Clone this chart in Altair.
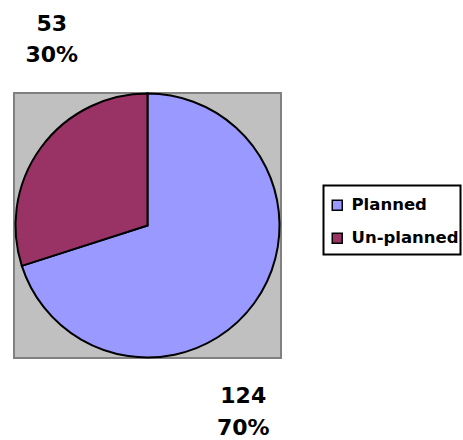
import altair as alt
import pandas as pd

# Slice data
categories = ["Planned", "Un-planned"]
counts = [124, 53]
slice_order = [0, 1]
slice_colors = ["#9999FF", "#993366"]

df = pd.DataFrame({"category": categories, "count": counts, "order": slice_order})

FONT = "DejaVu Sans"
one_row = pd.DataFrame({"k": [0]})

# Grey plot-area backdrop
backdrop = alt.Chart(one_row).mark_rect(
    fill="#C0C0C0", stroke="#808080", strokeWidth=2
).encode(
    x=alt.value(0), x2=alt.value(267),
    y=alt.value(0), y2=alt.value(265),
)

# Legend frame (drawn as a plain rectangle behind the legend entries)
frame = alt.Chart(one_row).mark_rect(
    fill="white", stroke="black", strokeWidth=2
).encode(
    x=alt.value(309.5), x2=alt.value(446.5),
    y=alt.value(92.5), y2=alt.value(161.5),
)

color = alt.Color(
    "category:N",
    scale=alt.Scale(domain=categories, range=slice_colors),
    legend=alt.Legend(
        title=None, orient="none", legendX=315, legendY=104,
        symbolType="square", symbolSize=100, symbolStrokeColor="black",
        symbolStrokeWidth=1.5, symbolOpacity=1,
        labelFont=FONT, labelFontWeight="bold", labelFontSize=16.5,
        labelColor="black", labelOffset=6, rowPadding=16, padding=0,
    ),
)

pie = alt.Chart(df).mark_arc(stroke="black", strokeWidth=2, radius=132).encode(
    theta=alt.Theta("count:Q", stack=True),
    order=alt.Order("order:Q"),
    color=color,
)

# Value / percentage labels placed around the pie at each slice's mid-angle
labels = alt.Chart(df).transform_joinaggregate(
    total="sum(count)"
).transform_window(
    cum="sum(count)", sort=[alt.SortField("order")], frame=[None, 0]
).transform_calculate(
    mid="(datum.cum - datum.count / 2) / datum.total * 2 * PI",
    pct="datum.count / datum.total",
    label="datum.count + '\\n' + format(datum.pct, '.0%')",
    lx="133.5 + 118.5 * sin(datum.mid)",
    ly="117 - 316 * cos(datum.mid)",
).mark_text(
    font=FONT, fontWeight="bold", fontSize=22, lineBreak="\n", lineHeight=31.5,
    align="center", baseline="middle", color="black",
).encode(
    x=alt.X("lx:Q", scale=None),
    y=alt.Y("ly:Q", scale=None),
    text="label:N",
)

chart = alt.layer(backdrop, frame, pie, labels).properties(
    width=267, height=265,
    padding={"left": 14, "top": 93, "right": 182, "bottom": 82},
    autosize=alt.AutoSizeParams(type="none"),
    background="white",
).configure_view(
    stroke=None
)

chart.save("out.html", embed_options={"renderer": "svg", "actions": False})
